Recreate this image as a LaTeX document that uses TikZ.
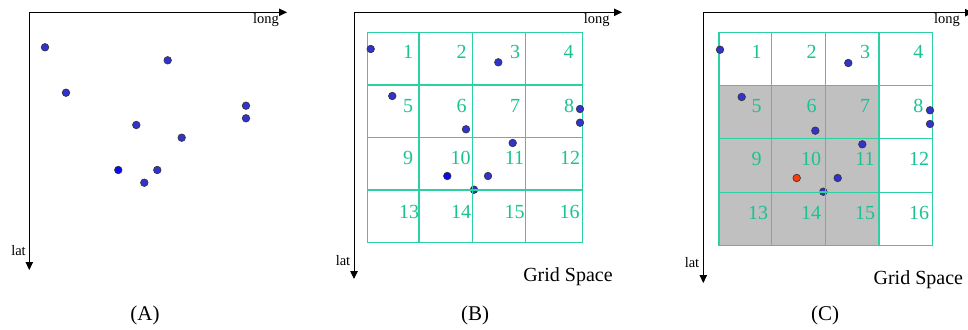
\documentclass[tikz,border=0pt]{standalone}
\usepackage{fontspec}
\setmainfont{Liberation Serif}
\usetikzlibrary{arrows.meta}
\definecolor{gridc}{RGB}{45,208,160}
\definecolor{numc}{RGB}{25,195,145}
\definecolor{dotc}{RGB}{50,50,205}
\definecolor{dotb}{RGB}{10,10,240}
\definecolor{redc}{RGB}{250,60,10}
\definecolor{graycell}{RGB}{192,192,192}
\tikzset{
  axis/.style={line width=0.9pt,-{Triangle[length=8pt,width=7.5pt]}},
  pt/.style={circle,draw=black!80,line width=0.6pt,fill=dotc,inner sep=0pt,minimum size=7.6pt},
  ptb/.style={pt,fill=dotb},
  ptr/.style={pt,fill=redc},
  gridline/.style={draw=gridc,line width=1.1pt},
  num/.style={text=numc,font=\fontsize{20}{20}\selectfont,inner sep=0pt},
  axlab/.style={font=\fontsize{14.5}{14.5}\selectfont,inner sep=0pt},
  captext/.style={font=\fontsize{21}{21}\selectfont,inner sep=0pt},
  gs/.style={font=\fontsize{20}{20}\selectfont,inner sep=0pt}
}
\begin{document}
\begin{tikzpicture}[x=1pt,y=-1pt]
\useasboundingbox (0,0) rectangle (968,329);
% ---------- Panel A ----------
\coordinate (oA) at (29.3,12.3);
\coordinate (xA) at (287,12.3);
\coordinate (yA) at (29.3,270);
\draw[axis] (oA) -- (xA);
\draw[axis] (oA) -- (yA);
\node[axlab] (longA) at (266,20) {long};
\node[axlab] (latA) at (18.5,251) {lat};
\node[pt] (a1) at (45,47.3) {};
\node[pt] (a2) at (167.7,60.3) {};
\node[pt] (a3) at (66,92.7) {};
\node[pt] (a4) at (246,105.7) {};
\node[pt] (a5) at (246,118.3) {};
\node[pt] (a6) at (136.3,125) {};
\node[pt] (a7) at (181.7,137.7) {};
\node[ptb] (a8) at (118.3,170) {};
\node[pt] (a9) at (157.3,170) {};
\node[pt] (a10) at (144.3,182.7) {};
\node[captext] (capA) at (145,315) {(A)};
% ---------- Panel B ----------
\coordinate (oB) at (354,12.3);
\coordinate (xB) at (622,12.3);
\coordinate (yB) at (354,279);
\draw[axis] (oB) -- (xB);
\draw[axis] (oB) -- (yB);
\node[axlab] (longB) at (596.7,20) {long};
\node[axlab] (latB) at (343,261) {lat};
\node[ptb] (b8) at (447.3,176) {};
\node[pt] (b10) at (474,189.7) {};
\foreach \x in {367.7,419,472.3,525.7,582.3}
  \draw[gridline] (\x,32.3) -- (\x,243);
\foreach \y in {32.3,85,137.3,190,242.3}
  \draw[gridline] (367.7,\y) -- (582.3,\y);
\foreach \n/\x/\y in {1/408/51.7,2/461.5/51.7,3/515/51.7,4/568.5/51.7,
  5/408/106,6/461.5/106,7/515/106,8/569/106,
  9/408/158.3,10/460.5/158.3,11/514.5/158.3,12/570/158.3,
  13/409/211.7,14/461/211.7,15/514.5/211.7,16/569.5/211.7}
  \node[num] (nb\n) at (\x,\y) {\n};
\node[pt] (b1) at (370.7,49) {};
\node[pt] (b2) at (498.3,62.3) {};
\node[pt] (b3) at (392.3,96) {};
\node[pt] (b4) at (580,109) {};
\node[pt] (b5) at (580,122.7) {};
\node[pt] (b6) at (466,129.3) {};
\node[pt] (b7) at (512.7,143) {};
\node[pt] (b9) at (488,176) {};
\draw[gridc,line width=1.1pt] (b10.west) -- (b10.east);
\node[gs] (gsB) at (568,276.7) {Grid Space};
\node[captext] (capB) at (475,315) {(B)};
% ---------- Panel C ----------
\coordinate (oC) at (703.3,12.7);
\coordinate (xC) at (973,12.7);
\coordinate (yC) at (703.3,283);
\draw[axis] (oC) -- (xC);
\draw[axis] (oC) -- (yC);
\node[axlab] (longC) at (947,20) {long};
\node[axlab] (latC) at (692,263) {lat};
\fill[graycell] (719,85.7) rectangle (879,245.7);
\node[ptr] (c8) at (796.7,178) {};
\node[pt] (c10) at (823.3,191.7) {};
\foreach \x in {719,771.7,825.7,879,932.7}
  \draw[gridline] (\x,32.3) -- (\x,245.7);
\foreach \y in {32.3,85.7,138.3,192.3,245.7}
  \draw[gridline] (719,\y) -- (932.7,\y);
\foreach \n/\x/\y in {1/756.7/51.7,2/811.7/51.7,3/865/51.7,4/918.3/51.7,
  5/756.7/106,6/811.7/106,7/865/106,8/918.3/106,
  9/756.7/159.3,10/811/159.3,11/865/159.3,12/919/159.3,
  13/758/213.3,14/811/213.3,15/865/213.3,16/919/213.3}
  \node[num] (nc\n) at (\x,\y) {\n};
\node[pt] (c1) at (720,49.7) {};
\node[pt] (c2) at (848.3,63) {};
\node[pt] (c3) at (741.7,97) {};
\node[pt] (c4) at (930,110.3) {};
\node[pt] (c5) at (930,124) {};
\node[pt] (c6) at (815.3,130.7) {};
\node[pt] (c7) at (862.3,144.3) {};
\node[pt] (c9) at (837.7,178) {};
\draw[gridc,line width=1.1pt] (c10.west) -- (c10.east);
\node[gs] (gsC) at (918.3,280) {Grid Space};
\node[captext] (capC) at (825,315) {(C)};
\end{tikzpicture}
\end{document}
